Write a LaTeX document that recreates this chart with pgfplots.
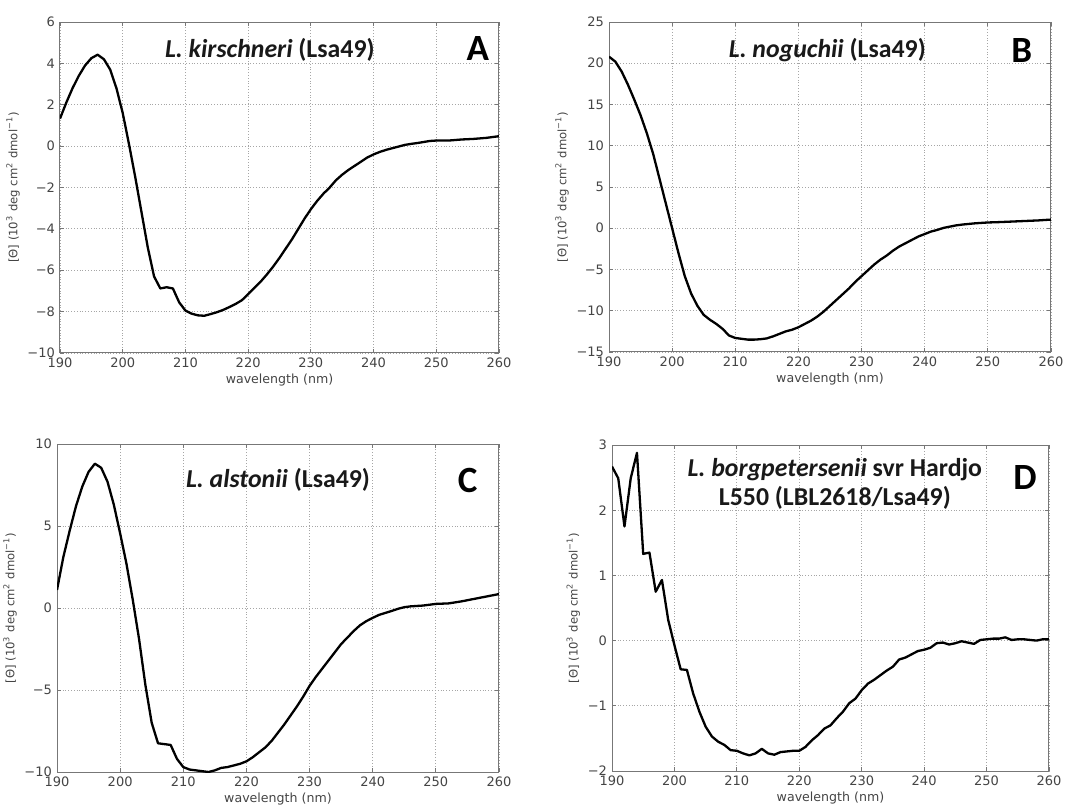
\documentclass[border=0pt]{standalone}
\usepackage{pgfplots}
\pgfplotsset{compat=1.18}
\usepackage{fontspec}
\setmainfont{DejaVu Sans}
\newfontfamily\carl{Carlito}
\definecolor{axgray}{HTML}{777777}
\definecolor{txtgray}{HTML}{444444}
\pgfplotsset{
  cdstyle/.style={
    scale only axis,
    xmin=190, xmax=260,
    xtick={190,200,...,260},
    grid=major,
    major grid style={densely dotted, gray!70, line width=0.4pt},
    axis line style={axgray, line width=0.5pt},
    tick align=inside,
    major tick length=2pt,
    tick style={axgray, line width=0.4pt},
    ticklabel style={font=\fontsize{6.5}{7}\selectfont, text=txtgray},
    /pgf/number format/assume math mode=true,
    xlabel={wavelength (nm)},
    xlabel style={font=\fontsize{6.3}{7}\selectfont, text=txtgray, yshift=4pt},
    ylabel={[Θ] (10\textsuperscript{3} deg cm\textsuperscript{2} dmol\textsuperscript{−1})},
    ylabel style={font=\fontsize{5.8}{7}\selectfont, text=txtgray, yshift=-3pt},
    x tick label style={yshift=1pt},
    y tick label style={xshift=1pt},
  },
  cdline/.style={black, line width=1.15pt, line join=round},
}
\tikzset{
  ttl/.style={font=\carl\bfseries\fontsize{12.9}{14}\selectfont, text=black!90},
  lett/.style={font=\carl\bfseries\fontsize{18.5}{20}\selectfont},
}
\begin{document}
\begin{tikzpicture}
\useasboundingbox (0,0) rectangle (542pt,402.5pt);
% ---------------- A
\begin{axis}[cdstyle, at={(30pt,226pt)}, anchor=south west,
  width=219.5pt, height=165.5pt, ymin=-10, ymax=6,
  ytick={-10,-8,...,6}, yticklabels={−10,−8,−6,−4,−2,0,2,4,6}]
\addplot[cdline] coordinates {
(190,1.33)(191,2.1)(192,2.8)(193,3.4)(194,3.9)(195,4.25)(196,4.42)(197,4.2)(198,3.7)(199,2.8)
(200,1.6)(201,0.1)(202,-1.5)(203,-3.2)(204,-4.9)(205,-6.3)(206,-6.88)(207,-6.82)(208,-6.88)(209,-7.55)
(210,-7.95)(211,-8.1)(212,-8.18)(213,-8.2)(214,-8.12)(215,-8.03)(216,-7.92)(217,-7.78)(218,-7.63)(219,-7.45)
(220,-7.15)(221,-6.85)(222,-6.55)(223,-6.2)(224,-5.82)(225,-5.4)(226,-4.95)(227,-4.5)(228,-4.0)(229,-3.5)
(230,-3.05)(231,-2.65)(232,-2.3)(233,-2.0)(234,-1.65)(235,-1.38)(236,-1.15)(237,-0.95)(238,-0.75)(239,-0.55)
(240,-0.4)(241,-0.28)(242,-0.18)(243,-0.1)(244,-0.02)(245,0.06)(246,0.11)(247,0.15)(248,0.2)(249,0.25)
(250,0.27)(252,0.27)(254,0.32)(256,0.35)(258,0.4)(260,0.48)};
\node[ttl] at (rel axis cs:0.478,0.915) {\textit{L. kirschneri} (Lsa49)};
\node[lett] at (rel axis cs:0.952,0.921) {A};
\end{axis}
% ---------------- B
\begin{axis}[cdstyle, at={(304.5pt,226.5pt)}, anchor=south west,
  width=221pt, height=165pt, ymin=-15, ymax=25,
  ytick={-15,-10,...,25}, yticklabels={−15,−10,−5,0,5,10,15,20,25}]
\addplot[cdline] coordinates {
(190,20.8)(191,20.2)(192,19.0)(193,17.4)(194,15.6)(195,13.7)(196,11.5)(197,9.0)(198,6.0)(199,3.0)
(200,0.0)(201,-3.0)(202,-5.8)(203,-7.9)(204,-9.4)(205,-10.5)(206,-11.1)(207,-11.6)(208,-12.2)(209,-13.0)
(210,-13.3)(211,-13.4)(212,-13.5)(213,-13.5)(214,-13.45)(215,-13.35)(216,-13.1)(217,-12.8)(218,-12.5)(219,-12.3)
(220,-12.0)(221,-11.6)(222,-11.2)(223,-10.7)(224,-10.1)(225,-9.4)(226,-8.7)(227,-8.0)(228,-7.3)(229,-6.5)
(230,-5.8)(231,-5.1)(232,-4.4)(233,-3.8)(234,-3.3)(235,-2.7)(236,-2.2)(237,-1.8)(238,-1.4)(239,-1.0)
(240,-0.7)(241,-0.4)(242,-0.2)(243,0.05)(244,0.2)(245,0.35)(246,0.45)(248,0.6)(250,0.7)(252,0.75)
(255,0.85)(258,0.95)(260,1.05)};
\node[ttl] at (rel axis cs:0.494,0.915) {\textit{L. noguchii} (Lsa49)};
\node[lett] at (rel axis cs:0.934,0.915) {B};
\end{axis}
% ---------------- C
\begin{axis}[cdstyle, at={(28.5pt,16.5pt)}, anchor=south west,
  width=221pt, height=164pt, ymin=-10, ymax=10,
  ytick={-10,-5,...,10}, yticklabels={−10,−5,0,5,10}]
\addplot[cdline] coordinates {
(190,1.1)(191,3.1)(192,4.7)(193,6.2)(194,7.4)(195,8.3)(196,8.8)(197,8.55)(198,7.7)(199,6.3)
(200,4.55)(201,2.7)(202,0.5)(203,-1.9)(204,-4.7)(205,-7.0)(206,-8.25)(207,-8.3)(208,-8.35)(209,-9.2)
(210,-9.7)(211,-9.85)(212,-9.9)(213,-9.95)(214,-10.0)(215,-9.9)(216,-9.75)(217,-9.7)(218,-9.6)(219,-9.5)
(220,-9.35)(221,-9.1)(222,-8.8)(223,-8.5)(224,-8.1)(225,-7.6)(226,-7.1)(227,-6.55)(228,-6.0)(229,-5.4)
(230,-4.75)(231,-4.2)(232,-3.7)(233,-3.2)(234,-2.7)(235,-2.2)(236,-1.8)(237,-1.4)(238,-1.05)(239,-0.8)
(240,-0.6)(241,-0.42)(242,-0.3)(243,-0.18)(244,-0.05)(245,0.05)(246,0.1)(248,0.15)(250,0.25)(252,0.28)
(254,0.4)(256,0.55)(258,0.7)(260,0.85)};
\node[ttl] at (rel axis cs:0.5,0.89) {\textit{L. alstonii} (Lsa49)};
\node[lett] at (rel axis cs:0.929,0.89) {C};
\end{axis}
% ---------------- D
\begin{axis}[cdstyle, at={(306pt,17pt)}, anchor=south west,
  width=218.5pt, height=163pt, ymin=-2, ymax=3,
  ytick={-2,-1,...,3}, yticklabels={−2,−1,0,1,2,3}]
\addplot[cdline] coordinates {
(190,2.67)(191,2.49)(192,1.75)(193,2.49)(194,2.88)(195,1.33)(196,1.35)(197,0.75)(198,0.93)(199,0.32)
(200,-0.07)(201,-0.44)(202,-0.45)(203,-0.81)(204,-1.09)(205,-1.32)(206,-1.47)(207,-1.55)(208,-1.6)(209,-1.68)
(210,-1.69)(211,-1.73)(212,-1.76)(213,-1.73)(214,-1.66)(215,-1.73)(216,-1.75)(217,-1.71)(218,-1.70)(219,-1.69)
(220,-1.69)(221,-1.63)(222,-1.53)(223,-1.45)(224,-1.35)(225,-1.30)(226,-1.19)(227,-1.09)(228,-0.96)(229,-0.89)
(230,-0.76)(231,-0.66)(232,-0.6)(233,-0.53)(234,-0.46)(235,-0.40)(236,-0.29)(237,-0.26)(238,-0.21)(239,-0.16)
(240,-0.14)(241,-0.11)(242,-0.04)(243,-0.03)(244,-0.06)(245,-0.04)(246,-0.01)(247,-0.03)(248,-0.05)(249,0.01)
(250,0.02)(251,0.03)(252,0.03)(253,0.05)(254,0.01)(255,0.02)(256,0.02)(257,0.01)(258,0.0)(259,0.02)(260,0.02)};
\node[ttl] at (rel axis cs:0.51,0.925) {\textit{L. borgpetersenii} svr Hardjo};
\node[ttl] at (rel axis cs:0.51,0.838) {L550 (LBL2618/Lsa49)};
\node[lett] at (rel axis cs:0.945,0.899) {D};
\end{axis}
\end{tikzpicture}
\end{document}
